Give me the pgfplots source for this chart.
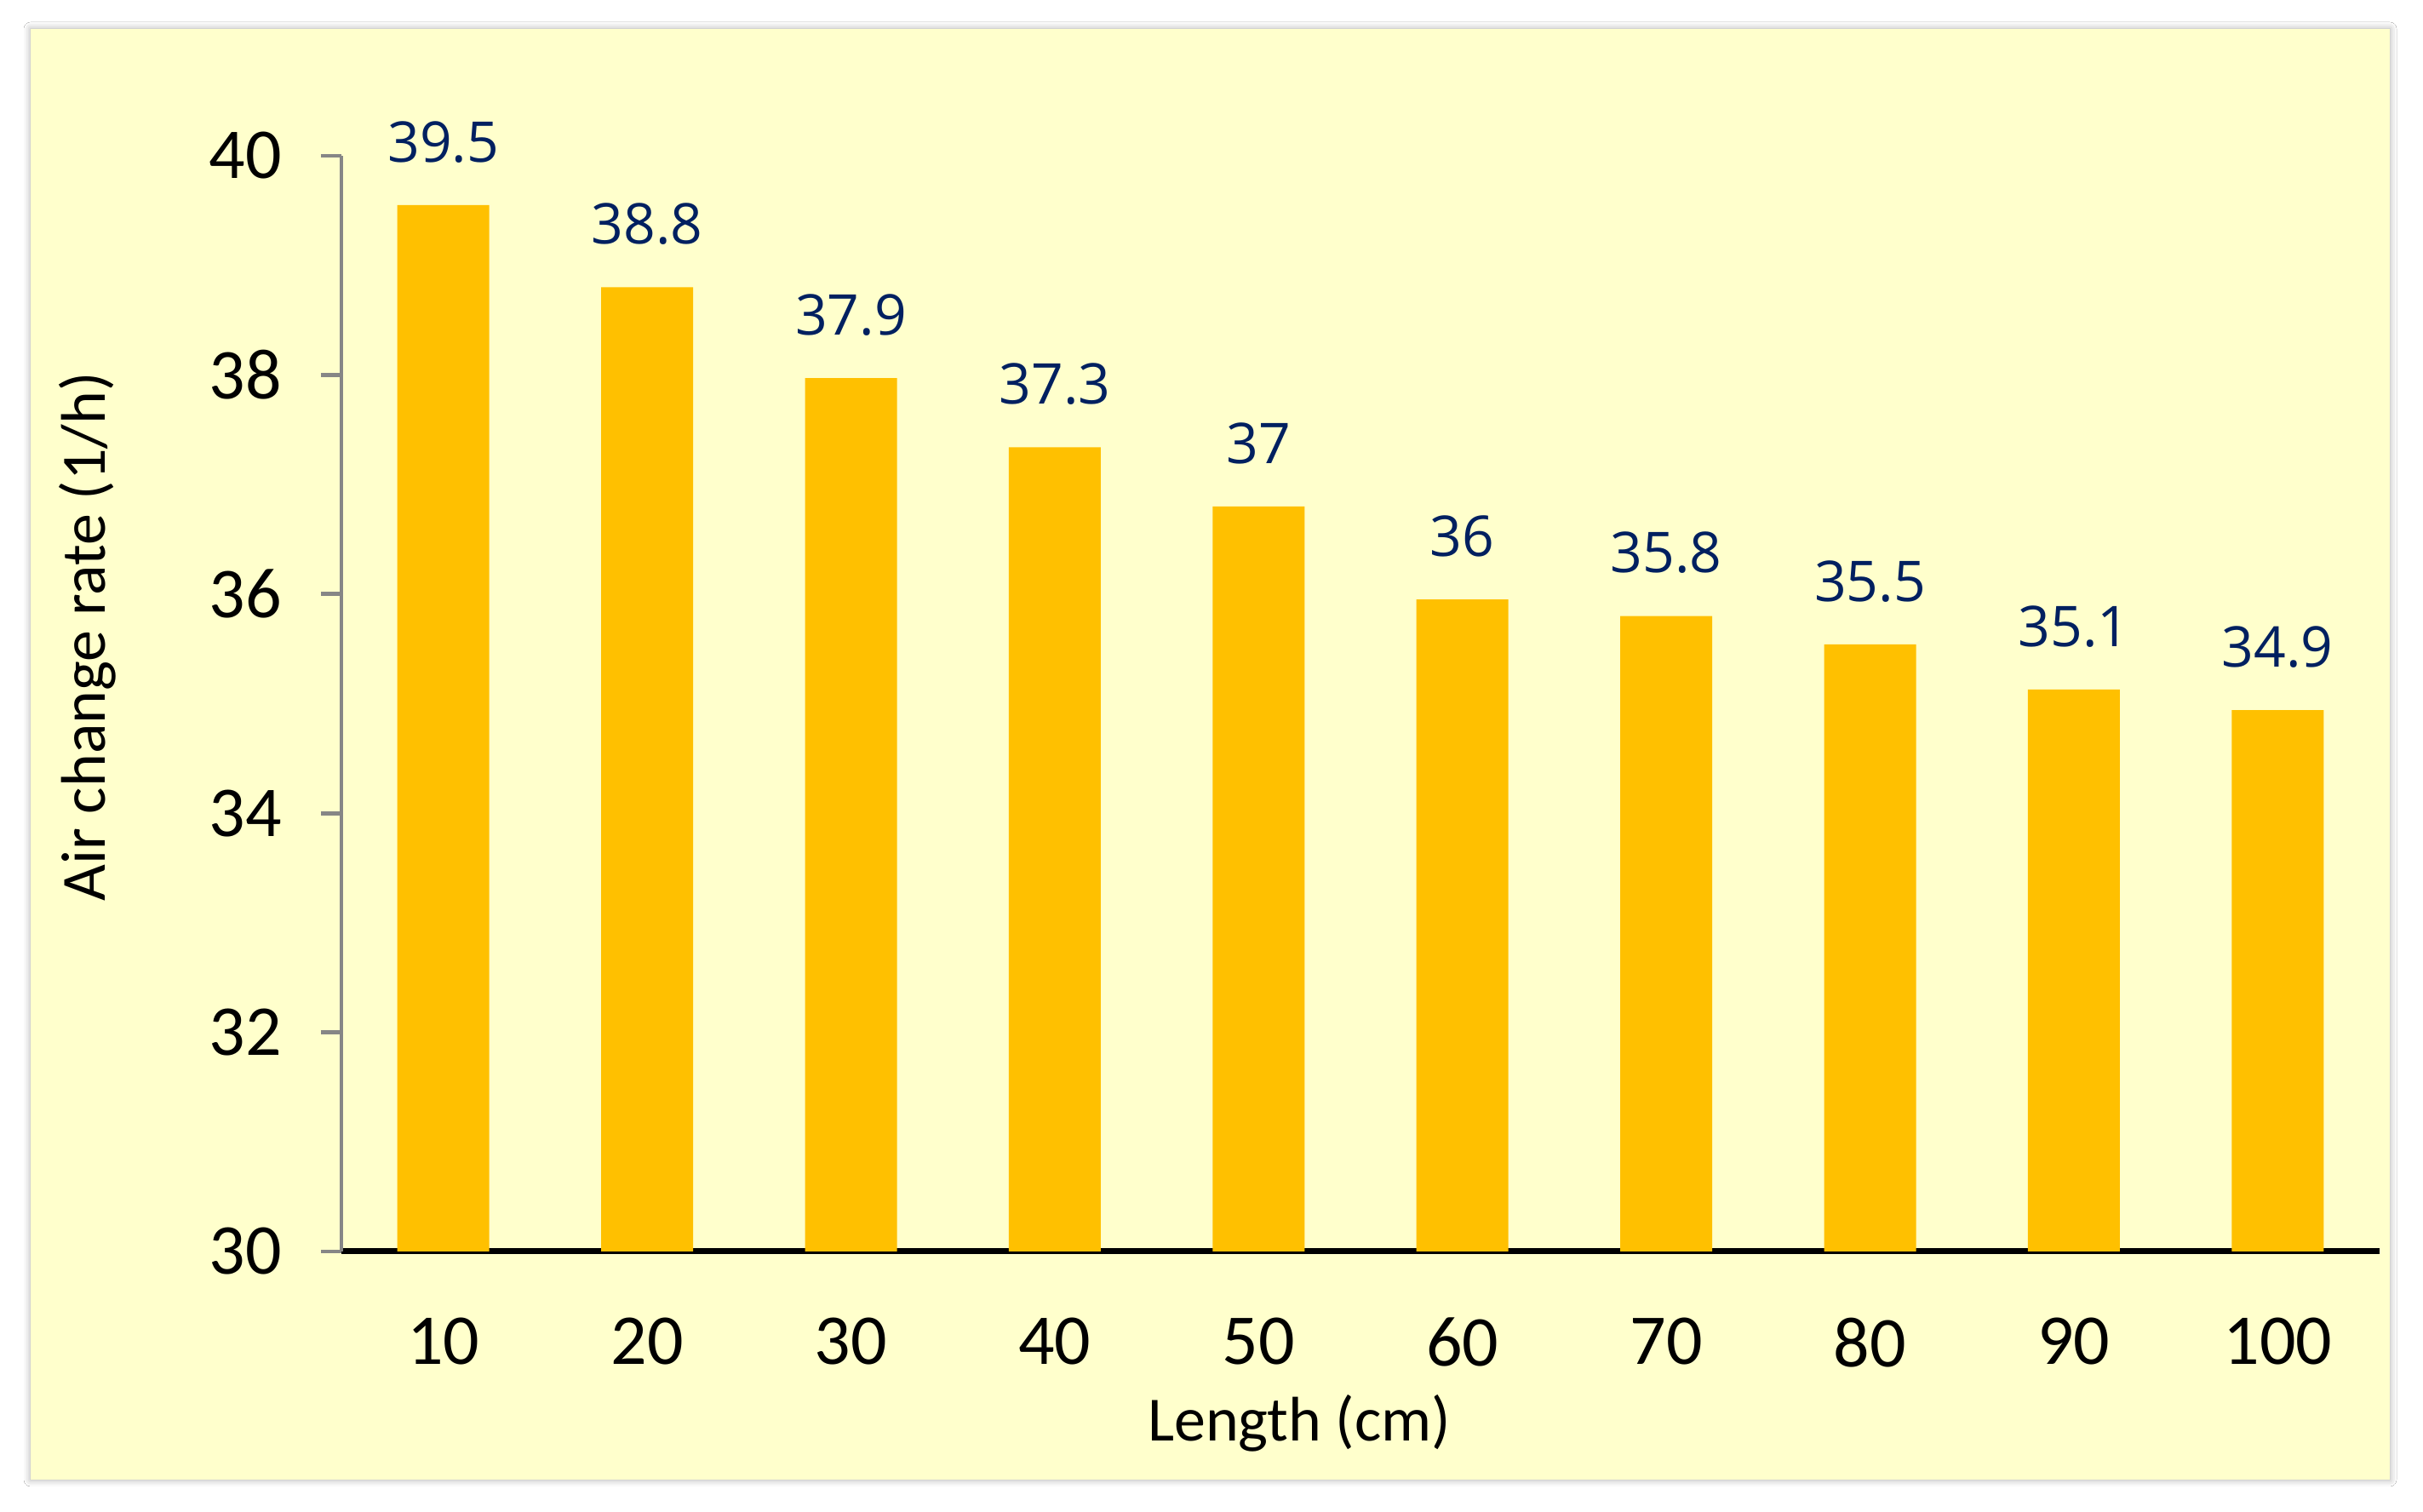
\documentclass[border=0pt]{standalone}
\usepackage{pgfplots}
\pgfplotsset{compat=1.18}
\usepackage{pgfplotstable}
\usepackage{fontspec}
\setmainfont{Carlito}
\newfontfamily\labfont{Open Sans}
\usetikzlibrary{shadows.blur}
\definecolor{panel}{HTML}{FFFFCC}
\definecolor{bargold}{HTML}{FFC000}
\definecolor{lblblue}{HTML}{002060}
\definecolor{axgray}{HTML}{868686}
\pgfplotstableread{
x y lab
0 39.55 39.5
1 38.80 38.8
2 37.97 37.9
3 37.34 37.3
4 36.80 37
5 35.95 36
6 35.80 35.8
7 35.54 35.5
8 35.13 35.1
9 34.94 34.9
}\datatab
\begin{document}
\begin{tikzpicture}
\fill[white] (0,0) rectangle (711.5pt,444pt);
\fill[panel, blur shadow={shadow xshift=0pt, shadow yshift=0pt, shadow blur radius=2pt, shadow opacity=35}] (9pt,9.5pt) rectangle (701.75pt,435.5pt);
\begin{axis}[
  at={(100.25pt,76.5pt)}, anchor=south west,
  scale only axis, width=598.5pt, height=321.75pt,
  xmin=-0.5, xmax=9.5, ymin=30, ymax=40,
  axis lines=left,
  x axis line style={black, line width=1.75pt, -},
  y axis line style={axgray, line width=1.2pt, -},
  ytick={30,32,...,40},
  xtick=data,
  xticklabels={10,20,30,40,50,60,70,80,90,100},
  xtick style={draw=none},
  ytick style={axgray, line width=1.2pt},
  tick align=outside,
  major tick length=6pt,
  tick label style={font=\fontsize{21}{24}\selectfont, black},
  /pgf/number format/assume math mode=true,
  xticklabel style={yshift=-10pt},
  yticklabel style={xshift=-8pt},
  ylabel={Air change rate (1/h)},
  xlabel={Length (cm)},
  label style={font=\fontsize{18.5}{22}\selectfont},
  ylabel style={at={(axis description cs:-0.1245,0.561)}, anchor=center, rotate=0},
  xlabel style={at={(axis description cs:0.47,-0.157)}, anchor=center},
  ybar, bar width=27pt,
  nodes near coords,
  point meta=explicit symbolic,
  every node near coord/.append style={font=\labfont\fontsize{16.5}{20}\selectfont, text=lblblue, anchor=center, yshift=18.5pt},
]
\addplot[draw=none, fill=bargold] table[x=x, y=y, meta=lab] {\datatab};
\end{axis}
\end{tikzpicture}
\end{document}
